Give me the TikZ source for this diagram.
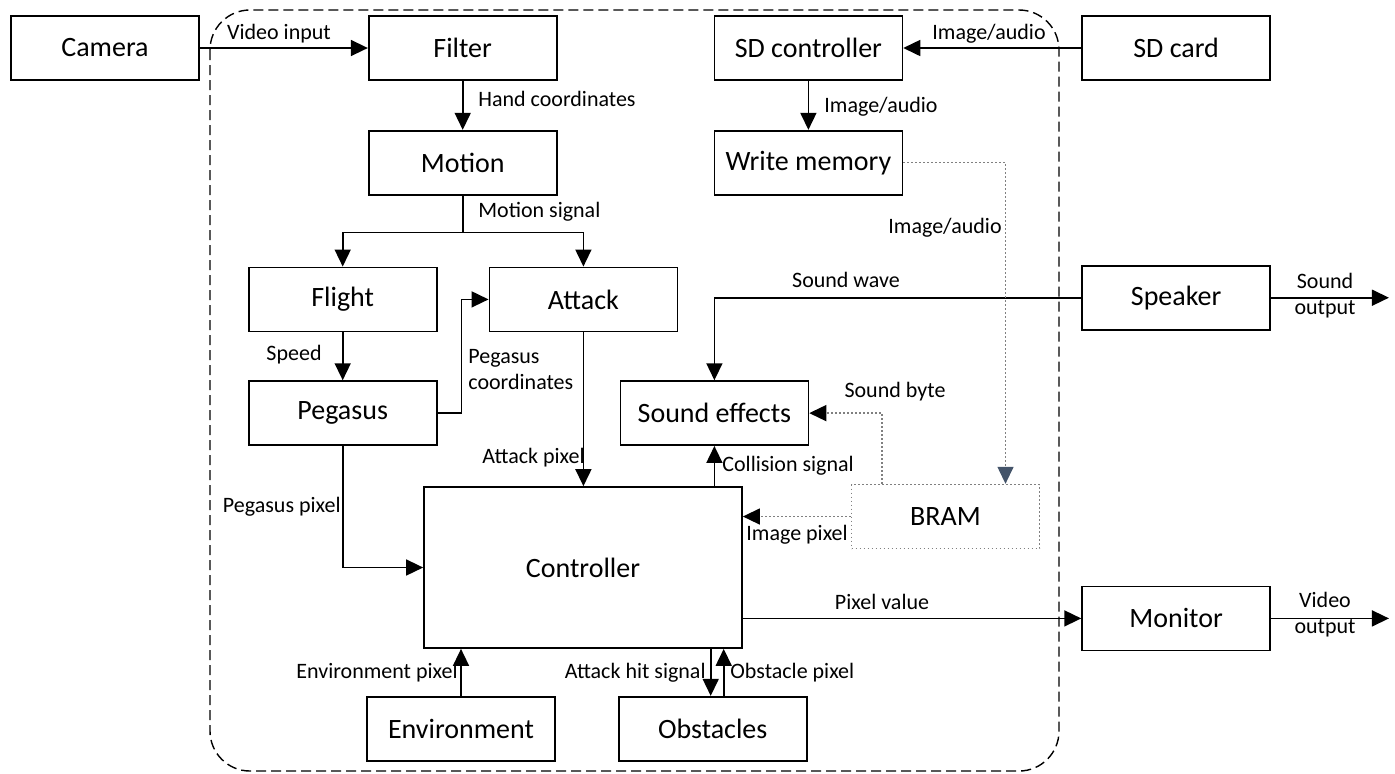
\documentclass[tikz,border=0pt]{standalone}
\usepackage{fontspec}
\setmainfont{Carlito}
\usetikzlibrary{arrows.meta, positioning}
\definecolor{slate}{RGB}{68,84,106}
\tikzstyle{blk}    = [rectangle, draw=black, line width=0.85pt, minimum width=94pt,
                      minimum height=32pt, inner sep=0pt, text centered,
                      font=\fontsize{14}{16}\selectfont]
\tikzstyle{dotbox} = [blk, draw=gray, line width=0.7pt, dash pattern=on 0.7pt off 1.3pt]
\tikzstyle{lbl}    = [inner sep=0pt, font=\fontsize{11}{13}\selectfont]
\tikzstyle{arr}    = [-{Triangle[length=8.5pt,width=8pt]}, line width=0.8pt]
\tikzstyle{dotarr} = [-{Triangle[length=8.5pt,width=8pt,color=black]}, gray,
                      line width=0.7pt, dash pattern=on 0.7pt off 1.3pt]

\begin{document}
\begin{tikzpicture}[x=0.5pt, y=-0.5pt]
  \useasboundingbox (0,0) rectangle (1395,773);
  % FPGA boundary
  \draw[dash pattern=on 5pt off 2.5pt, line width=0.7pt, rounded corners=20pt] (210,10) rectangle (1059,771);

  \node[blk] (camera) at (105,48) {Camera};
  \node[blk, right=84pt of camera] (filter) {Filter};
  \node[blk, right=78pt of filter] (sdctrl) {SD controller};
  \node[blk, right=89pt of sdctrl] (sdcard) {SD card};
  \node[blk, below=24.5pt of filter] (motion) {Motion};
  \node[blk, below=24.5pt of sdctrl] (wmem) {Write memory};
  \node[blk, below=35.5pt of motion, xshift=-60pt] (flight) {Flight};
  \node[blk, right=25.5pt of flight] (attack) {Attack};
  \node[blk, below=24pt of flight] (pegasus) {Pegasus};
  \node[blk, right=91pt of pegasus] (sfx) {Sound effects};
  \node[blk, below=92pt of sdcard] (speaker) {Speaker};
  \node[blk, minimum width=159pt, minimum height=80.5pt] (ctrl) at (583,567.5) {Controller};
  \node[dotbox] (bram) at (945.5,516.5) {BRAM};
  \node[blk, below=127.5pt of speaker] (monitor) {Monitor};
  \node[blk, below=23.5pt of ctrl, xshift=-61pt] (env) {Environment};
  \node[blk, right=31pt of env] (obst) {Obstacles};

  \coordinate[right=59pt of speaker.east] (sndout);
  \coordinate[right=59pt of monitor.east] (vidout);

  \draw[arr] (camera) -- (filter);
  \draw[arr] (sdcard) -- (sdctrl);
  \draw[arr] (filter) -- (motion);
  \draw[arr] (sdctrl) -- (wmem);
  \draw[line width=0.8pt] (motion.south) -- ++(0,37) coordinate (msplit);
  \draw[arr] (msplit) -| (flight.north);
  \draw[arr] (msplit) -| (attack.north);
  \draw[arr] (flight) -- (pegasus);
  \draw[arr] (pegasus.east) -- ++(24,0) |- (attack.west);
  \draw[arr] (attack.south) -- (attack.south |- ctrl.north);
  \draw[arr] (pegasus.south) |- (ctrl.west);
  \draw[arr] (speaker.west) -| (sfx.north);
  \draw[arr] (sfx.south |- ctrl.north) -- (sfx.south);
  \draw[dotarr] (bram.west) -- (bram.west -| ctrl.east);
  \draw[dotarr] ([xshift=15.5pt]bram.north west) |- (sfx.east);
  \draw[dotarr, -{Triangle[length=8.5pt,width=8pt,color=slate]}] (wmem.east) -| ([xshift=30pt]bram.north);
  \draw[arr] (ctrl.east |- monitor.west) -- (monitor.west);
  \draw[arr] (speaker.east) -- (sndout);
  \draw[arr] (monitor.east) -- (vidout);
  \draw[arr] (env) -- (env |- ctrl.south);
  \draw[arr] ([xshift=-1pt]obst.north |- ctrl.south) -- ([xshift=-1pt]obst.north);
  \draw[arr] ([xshift=5.5pt]obst.north) -- ([xshift=5.5pt]obst.north |- ctrl.south);

  % labels
  \node[lbl] (lvid) at (279,34) {Video input};
  \node[lbl] (limg1) at (989,34) {Image/audio};
  \node[lbl, anchor=west] (lhand) at (478,99) {Hand coordinates};
  \node[lbl, anchor=west] (limg2) at (824,107) {Image/audio};
  \node[lbl, anchor=west] (lmot) at (478,212) {Motion signal};
  \node[lbl, anchor=east] (limg3) at (1002,228) {Image/audio};
  \node[lbl] (lwave) at (846,280) {Sound wave};
  \node[lbl, anchor=east] (lspeed) at (322,355) {Speed};
  \node[lbl, anchor=west, align=left] (lpegc) at (468,370) {Pegasus\\coordinates};
  \node[lbl] (lbyte) at (895,392) {Sound byte};
  \node[lbl, anchor=east] (latk) at (585,458) {Attack pixel};
  \node[lbl, anchor=west] (lcol) at (722,466) {Collision signal};
  \node[lbl, anchor=east] (lpegp) at (341,507) {Pegasus pixel};
  \node[lbl, anchor=west] (limgp) at (746,535) {Image pixel};
  \node[lbl] (lpix) at (882,602) {Pixel value};
  \node[lbl, anchor=east] (lenv) at (458,673) {Environment pixel};
  \node[lbl, anchor=east] (lhit) at (706,673) {Attack hit signal};
  \node[lbl, anchor=west] (lobst) at (730,673) {Obstacle pixel};
  \node[lbl, align=center] (lsnd) at (1325,296) {Sound\\output};
  \node[lbl, align=center] (lvout) at (1325,615) {Video\\output};
\end{tikzpicture}
\end{document}
